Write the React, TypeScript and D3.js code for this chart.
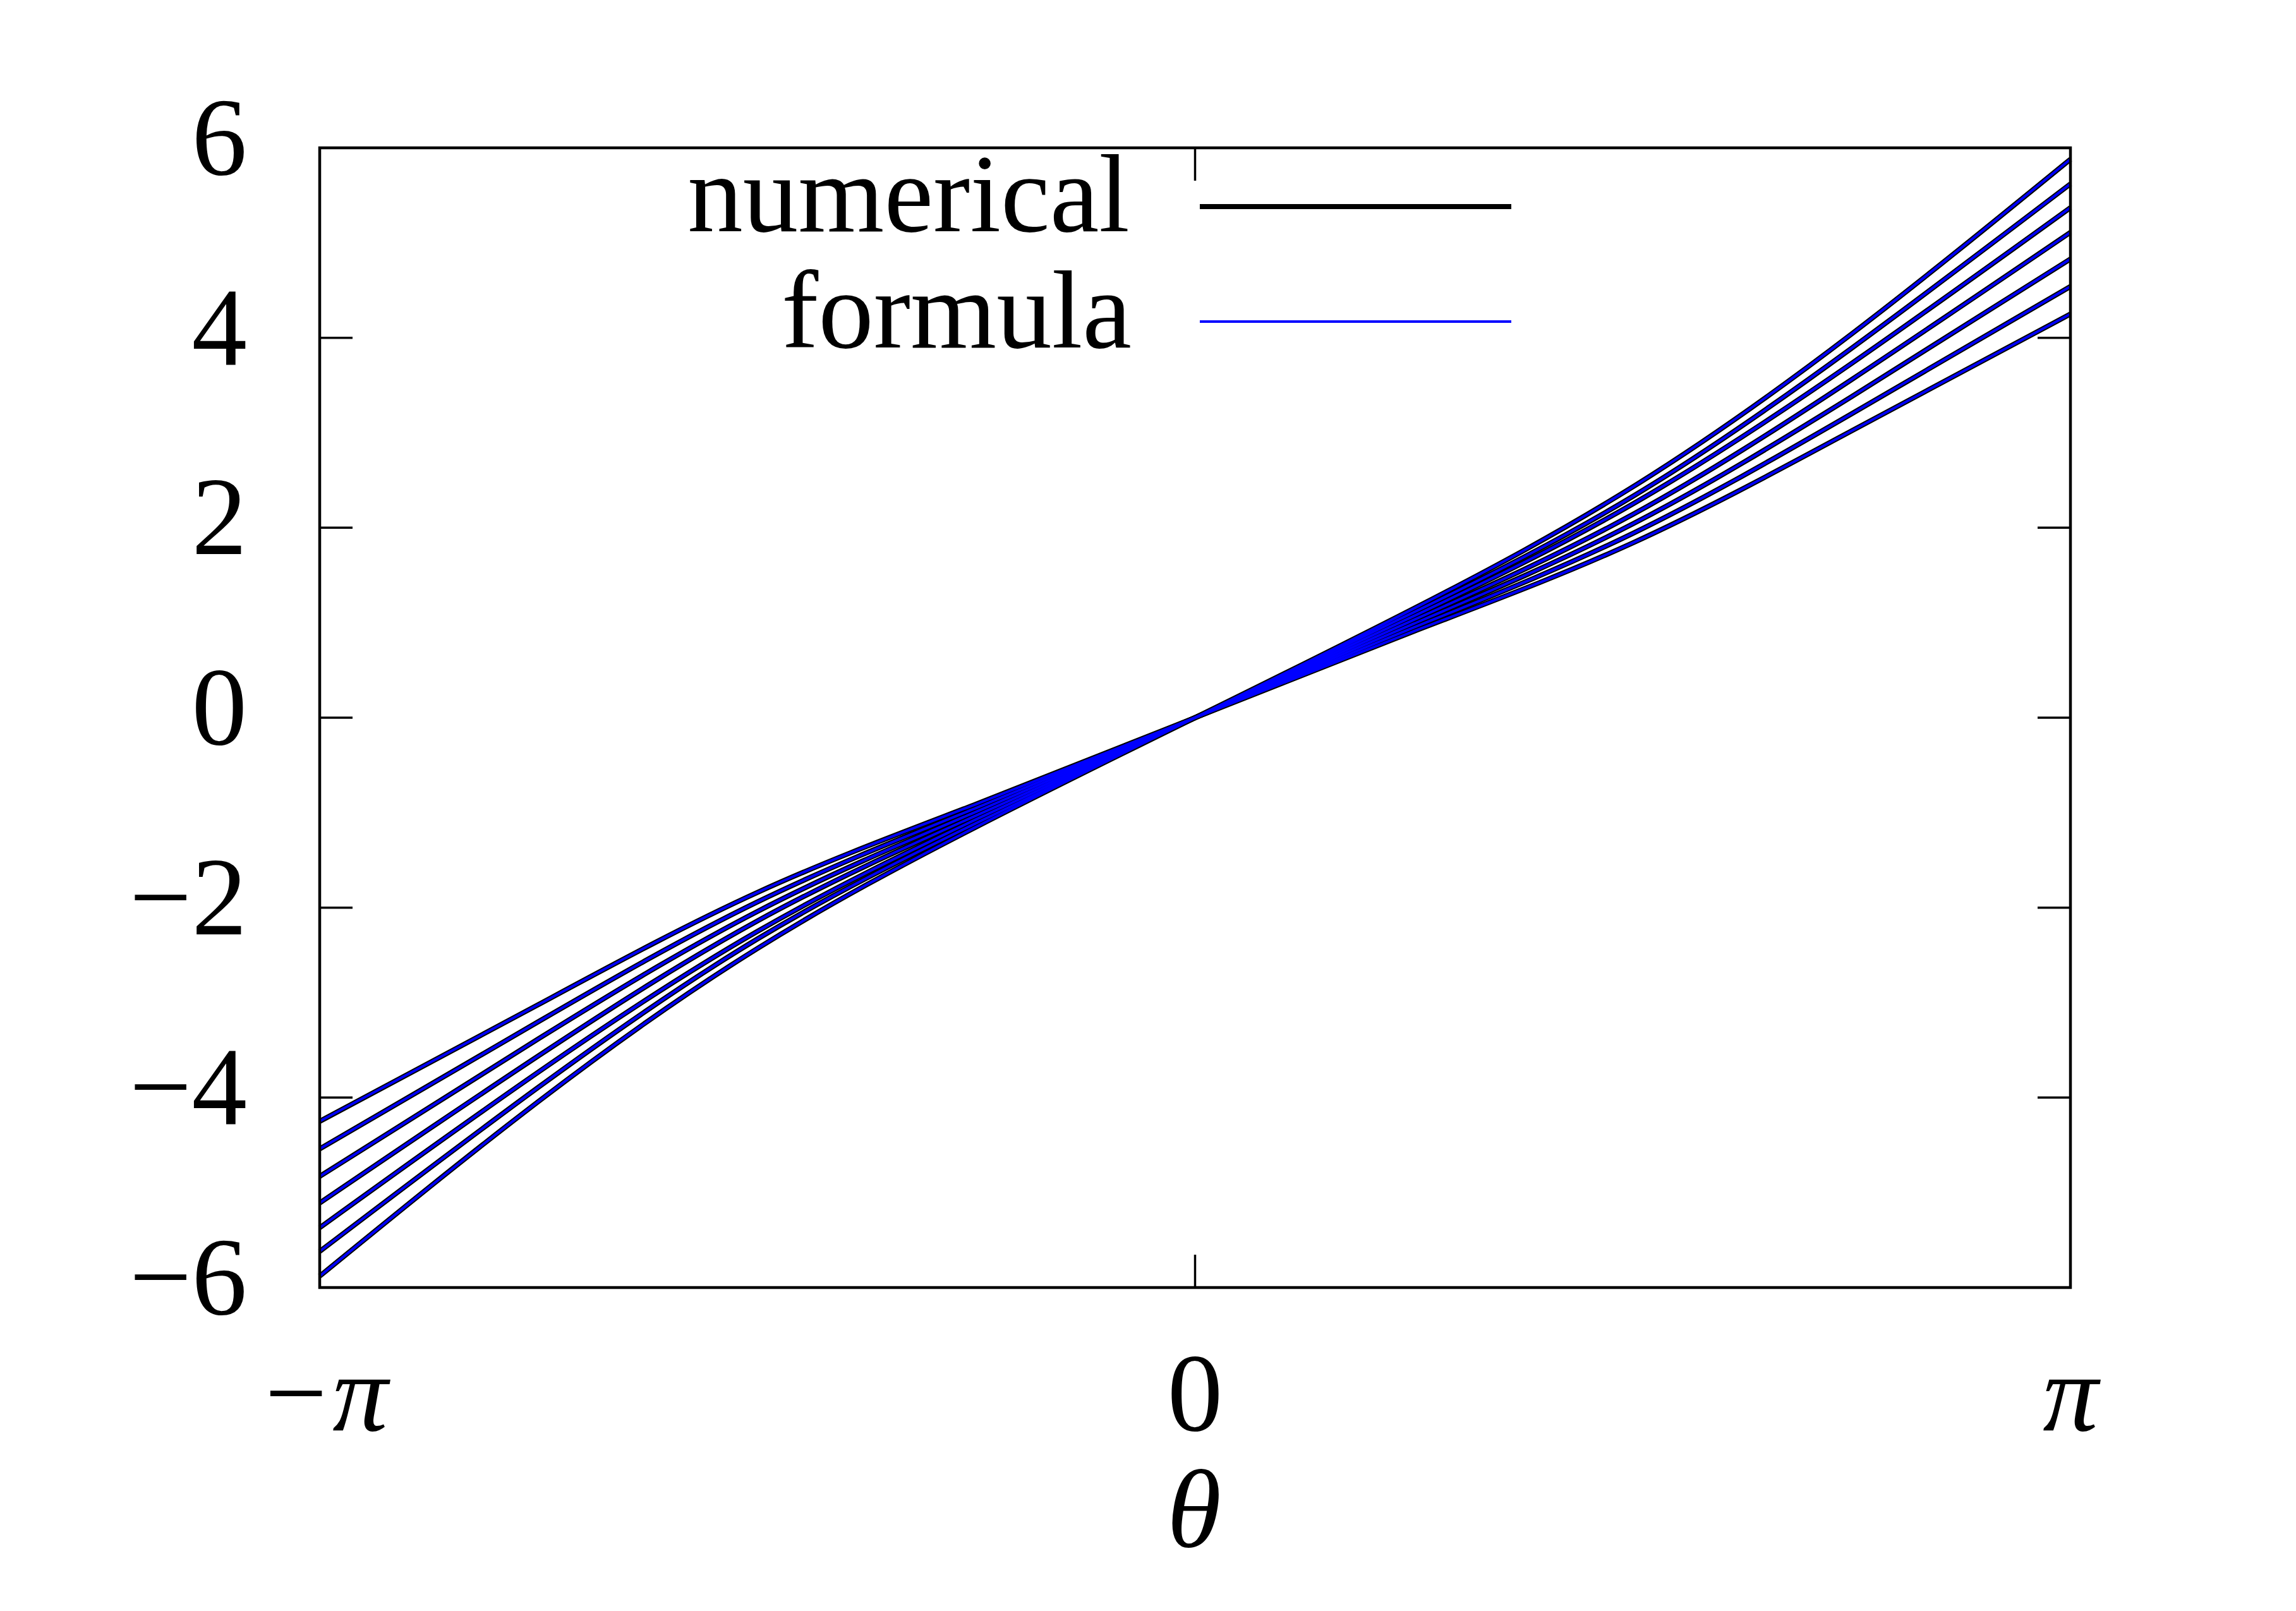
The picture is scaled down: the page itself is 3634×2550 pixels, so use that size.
import React from "react";
import * as d3 from "d3";

const PI = Math.PI;
// sample angles (theta)
const thetas = [-PI, (-3 * PI) / 4, -PI / 2, -PI / 4, 0, PI / 4, PI / 2, (3 * PI) / 4, PI];

// seven curves (steepest first)
const curveA = [-5.88, -4.04, -2.43, -1.15, 0, 1.15, 2.43, 4.04, 5.88];
const curveB = [-5.62, -3.89, -2.33, -1.11, 0, 1.11, 2.33, 3.89, 5.62];
const curveC = [-5.37, -3.73, -2.25, -1.07, 0, 1.07, 2.25, 3.73, 5.37];
const curveD = [-5.11, -3.56, -2.14, -1.03, 0, 1.03, 2.14, 3.56, 5.11];
const curveE = [-4.83, -3.38, -2.04, -0.99, 0, 0.99, 2.04, 3.38, 4.83];
const curveF = [-4.54, -3.2, -1.94, -0.95, 0, 0.95, 1.94, 3.2, 4.54];
const curveG = [-4.25, -3.02, -1.84, -0.91, 0, 0.91, 1.84, 3.02, 4.25];
const allCurves = [curveA, curveB, curveC, curveD, curveE, curveF, curveG];

const yTicks = [-6, -4, -2, 0, 2, 4, 6];
const yTickLabels = ["−6", "−4", "−2", "0", "2", "4", "6"];
const xTicks = [-PI, 0, PI];
const xTickLabels = ["−π", "0", "π"];
const legendLabels = ["numerical", "formula"];
const xAxisLabel = "θ";

export default function App() {
  const W = 3634;
  const H = 2550;
  const left = 506, right = 3277, top = 234, bottom = 2038;
  const x = d3.scaleLinear().domain([-PI, PI]).range([left, right]);
  const y = d3.scaleLinear().domain([-6, 6]).range([bottom, top]);
  const line = d3
    .line<number>()
    .x((_, i) => x(thetas[i]))
    .y((d) => y(d))
    .curve(d3.curveNatural);

  const tickLen = 52;
  const font = "'Liberation Serif', 'DejaVu Serif', serif";
  const fs = 175;

  return (
    <svg
      width={W}
      height={H}
      style={{ position: "absolute", left: 0, top: 0, background: "#fff" }}
      fontFamily={font}
    >
      <rect x={0} y={0} width={W} height={H} fill="#fff" />
      {/* ticks */}
      {yTicks.map((v, i) => (
        <g key={"yt" + i}>
          <line x1={left} x2={left + tickLen} y1={y(v)} y2={y(v)} stroke="#000" strokeWidth={3.5} />
          <line x1={right} x2={right - tickLen} y1={y(v)} y2={y(v)} stroke="#000" strokeWidth={3.5} />
          <text x={391} y={y(v) + 42} textAnchor="end" fontSize={fs} fill="#000">
            {yTickLabels[i]}
          </text>
        </g>
      ))}
      {xTicks.map((v, i) => (
        <g key={"xt" + i}>
          <line x1={x(v)} x2={x(v)} y1={bottom} y2={bottom - tickLen} stroke="#000" strokeWidth={3.5} />
          <line x1={x(v)} x2={x(v)} y1={top} y2={top + tickLen} stroke="#000" strokeWidth={3.5} />
          <text
            x={x(v) + (i === 0 ? 5 : 0)}
            y={2264}
            textAnchor="middle"
            fontSize={fs}
            fontStyle={i === 1 ? "normal" : "italic"}
            fill="#000"
          >
            {xTickLabels[i]}
          </text>
        </g>
      ))}
      <text x={1890} y={2448} textAnchor="middle" fontSize={fs} fontStyle="italic" fill="#000">
        {xAxisLabel}
      </text>

      {/* numerical (black) */}
      {allCurves.map((c, i) => (
        <path key={"n" + i} d={line(c) || ""} fill="none" stroke="#000" strokeWidth={8} strokeLinejoin="round" />
      ))}
      {/* formula (blue) */}
      {allCurves.map((c, i) => (
        <path key={"f" + i} d={line(c) || ""} fill="none" stroke="#0000ff" strokeWidth={4} strokeLinejoin="round" />
      ))}

      {/* legend */}
      <text x={1788} y={366} textAnchor="end" fontSize={fs} fill="#000">
        {legendLabels[0]}
      </text>
      <line x1={1899} x2={2392} y1={327} y2={327} stroke="#000" strokeWidth={8} />
      <text x={1791} y={550} textAnchor="end" fontSize={fs} fill="#000">
        {legendLabels[1]}
      </text>
      <line x1={1899} x2={2392} y1={509} y2={509} stroke="#0000ff" strokeWidth={4} />

      {/* border */}
      <rect x={left} y={top} width={right - left} height={bottom - top} fill="none" stroke="#000" strokeWidth={4.5} />
    </svg>
  );
}
